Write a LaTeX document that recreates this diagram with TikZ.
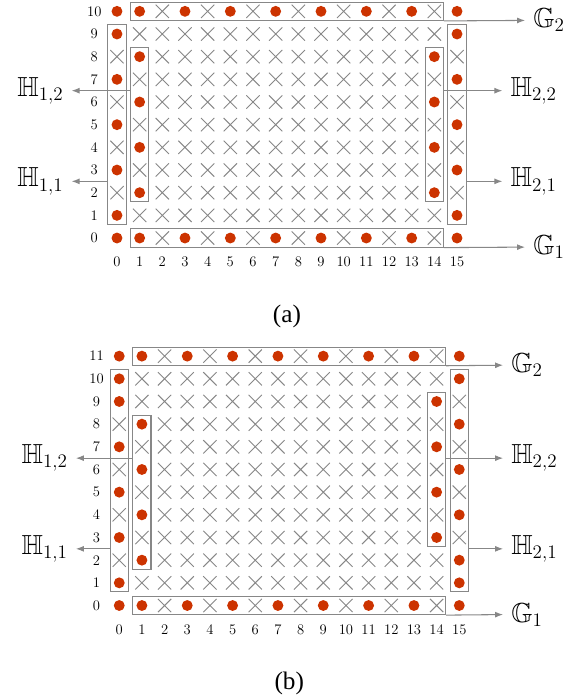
\documentclass[tikz,border=0pt]{standalone}
\usepackage{amsmath}
\usepackage{amssymb}
\usepackage{fontspec}
\usepackage{tikz}
\usetikzlibrary{arrows.meta,fit}
\newfontfamily\capfont{Liberation Serif}
\definecolor{dotred}{RGB}{204,51,0}
\definecolor{edge}{RGB}{135,135,135}

\begin{document}
\begin{tikzpicture}[x=0.6cm,y=0.6cm,
  grp/.style={draw=edge,line width=0.8pt,inner sep=0.24cm},
  num/.style={font=\fontsize{11}{13}\selectfont,inner sep=0pt},
  lbl/.style={font=\fontsize{20.74}{24}\selectfont,inner xsep=6pt,inner ysep=1pt},
  captxt/.style={font=\capfont\fontsize{19}{22}\selectfont},
  arr/.style={-{Latex[length=6pt,width=4.5pt]},color=edge,line width=0.8pt},
  xcell/.pic={\draw[edge,line width=0.7pt] (-5pt,-5pt)--(5pt,5pt) (-5pt,5pt)--(5pt,-5pt);},
  dcell/.pic={\fill[dotred] (0,0) circle (4.1pt);}]
  \useasboundingbox (-5.16,-20.29) rectangle (19.81,10.5);
  % (a)
  \foreach \c in {2,...,13} \foreach \r in {1,...,9} \pic at (\c,\r) {xcell};
  \foreach \r in {0,10} {
    \foreach \c in {0,1,3,...,15} \pic at (\c,\r) {dcell};
    \foreach \c in {2,4,...,14} \pic at (\c,\r) {xcell};
  }
  \foreach \c in {0,15} {
    \foreach \r in {1,3,...,9} \pic at (\c,\r) {dcell};
    \foreach \r in {2,4,6,8} \pic at (\c,\r) {xcell};
  }
  \foreach \c in {1,14} {
    \foreach \r in {2,4,6,8} \pic at (\c,\r) {dcell};
    \foreach \r in {1,3,...,9} \pic at (\c,\r) {xcell};
  }
  \foreach \r in {0,...,10} \node[num] (ra\r) at (-1,\r) {\r};
  \foreach \c in {0,...,15} \node[num] (ca\c) at (\c,-1.05) {\c};
  \node[grp,fit={(1,10) (14,10)}] (topa) {};
  \node[grp,fit={(1,0) (14,0)}] (bota) {};
  \node[grp,fit={(0,1) (0,9)}] (v0a) {};
  \node[grp,fit={(1,2) (1,8)}] (v1a) {};
  \node[grp,fit={(14,2) (14,8)}] (v14a) {};
  \node[grp,fit={(15,1) (15,9)}] (v15a) {};
  \node[lbl,anchor=west] (G2a) at (18,9.6) {$\mathbb{G}_2$};
  \node[lbl,anchor=west] (G1a) at (18,-0.4) {$\mathbb{G}_1$};
  \node[lbl,anchor=west] (H22a) at (17,6.5) {$\mathbb{H}_{2,2}$};
  \node[lbl,anchor=west] (H21a) at (17,2.5) {$\mathbb{H}_{2,1}$};
  \node[lbl,anchor=east] (H12a) at (-2,6.5) {$\mathbb{H}_{1,2}$};
  \node[lbl,anchor=east] (H11a) at (-2,2.5) {$\mathbb{H}_{1,1}$};
  \draw[arr] (topa.south east) -- (G2a.west);
  \draw[arr] (bota.south east) -- (G1a.west);
  \draw[arr] (v14a.east |- 0,6.5) -- (H22a.west);
  \draw[arr] (v15a.east |- 0,2.5) -- (H21a.west);
  \draw[arr] (v1a.west |- 0,6.5) -- (H12a.east);
  \draw[arr] (v0a.west |- 0,2.5) -- (H11a.east);
  \node[captxt] (capa) at (7.5,-3.44) {(a)};
  % (b)
  \begin{scope}[shift={(0.1,-16.21)}]
    \foreach \c in {2,...,13} \foreach \r in {1,...,10} \pic at (\c,\r) {xcell};
    \foreach \r in {0,11} {
      \foreach \c in {0,1,3,...,15} \pic at (\c,\r) {dcell};
      \foreach \c in {2,4,...,14} \pic at (\c,\r) {xcell};
    }
    \foreach \c/\r in {0/1,0/3,0/5,0/7,0/9,0/10,1/2,1/4,1/6,1/8,
      14/3,14/5,14/7,14/9,15/1,15/2,15/4,15/6,15/8,15/10}
      \pic at (\c,\r) {dcell};
    \foreach \c/\r in {0/2,0/4,0/6,0/8,1/1,1/3,1/5,1/7,1/9,1/10,
      14/1,14/2,14/4,14/6,14/8,14/10,15/3,15/5,15/7,15/9}
      \pic at (\c,\r) {xcell};
    \foreach \r in {0,...,11} \node[num] (rb\r) at (-1,\r) {\r};
    \foreach \c in {0,...,15} \node[num] (cb\c) at (\c,-1.05) {\c};
    \node[grp,fit={(1,11) (14,11)}] (topb) {};
    \node[grp,fit={(1,0) (14,0)}] (botb) {};
    \node[grp,fit={(0,1) (0,10)}] (v0b) {};
    \node[grp,fit={(1,2) (1,8)}] (v1b) {};
    \node[grp,fit={(14,3) (14,9)}] (v14b) {};
    \node[grp,fit={(15,1) (15,10)}] (v15b) {};
    \node[lbl,anchor=west] (G2b) at (16.93,10.6) {$\mathbb{G}_2$};
    \node[lbl,anchor=west] (G1b) at (16.93,-0.4) {$\mathbb{G}_1$};
    \node[lbl,anchor=west] (H22b) at (16.93,6.5) {$\mathbb{H}_{2,2}$};
    \node[lbl,anchor=west] (H21b) at (16.93,2.5) {$\mathbb{H}_{2,1}$};
    \node[lbl,anchor=east] (H12b) at (-1.91,6.5) {$\mathbb{H}_{1,2}$};
    \node[lbl,anchor=east] (H11b) at (-1.91,2.5) {$\mathbb{H}_{1,1}$};
    \draw[arr] (topb.south east) -- (G2b.west);
    \draw[arr] (botb.south east) -- (G1b.west);
    \draw[arr] (v14b.east |- 0,6.5) -- (H22b.west);
    \draw[arr] (v15b.east |- 0,2.5) -- (H21b.west);
    \draw[arr] (v1b.west |- 0,6.5) -- (H12b.east);
    \draw[arr] (v0b.west |- 0,2.5) -- (H11b.east);
    \node[captxt] (capb) at (7.5,-3.44) {(b)};
  \end{scope}
\end{tikzpicture}
\end{document}
